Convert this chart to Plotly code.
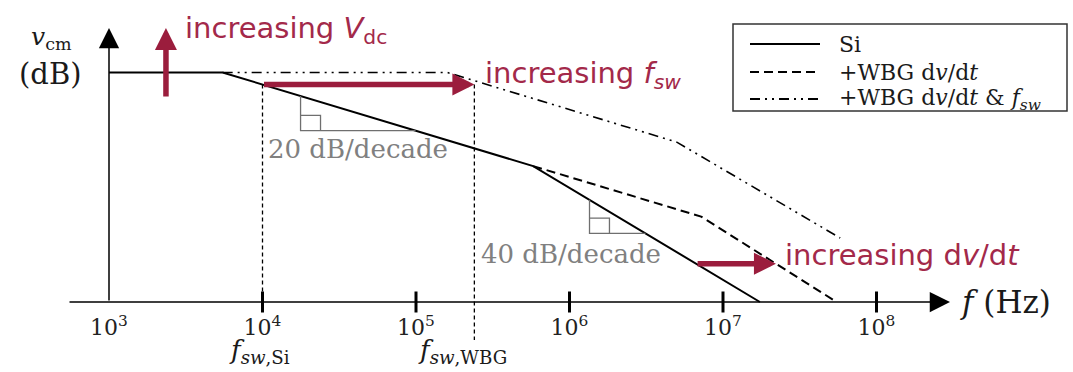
import math
import numpy as np
import plotly.graph_objects as go

W, H = 1073, 372

# ---------------- data ----------------
tick_exponents = [3, 4, 5, 6, 7, 8]
tick_freqs = [10.0 ** e for e in tick_exponents]
tick_labels = [f"10<sup>{e}</sup>" for e in tick_exponents]

# Si spectrum envelope (Hz, dB)
si_freq = [1.0e3, 5.5e3, 5.8e5, 1.74e7]
si_db = [90.0, 90.0, 53.3, 0.0]
# +WBG dv/dt
wbg_dvdt_freq = [5.8e5, 7.2e6, 5.5e7]
wbg_dvdt_db = [53.3, 33.5, 0.0]
# +WBG dv/dt & fsw
wbg_both_freq = [5.5e3, 1.6e5, 5.0e6, 5.8e7]
wbg_both_db = [90.0, 90.0, 62.7, 25.1]

fsw_si = 1.0e4
fsw_wbg = 2.4e5

legend_names = ["Si", "+WBG d<i>v</i>/d<i>t</i>", "+WBG d<i>v</i>/d<i>t</i> &amp; <i>f<sub>sw</sub></i>"]

# slope-triangle anchors (frequency of vertical leg, dB of horizontal leg)
tri_freq = [1.77e4, 1.35e6]
tri_db = [67.2, 26.9]
tri_text = ["20 dB/decade", "40 dB/decade"]

# ---------------- layout constants ----------------
X0_PX, DEC_PX = 109.0, 153.5     # pixel of 10^3 and pixels per decade
Y0_PX, DB_PX = 302.0, 2.55       # pixel of 0 dB and pixels per dB
RED_ARROW = "#9B1D3D"
RED_TEXT = "#A3294A"
GRAY = "#808080"
SERIF = "DejaVu Serif"
SANS = "DejaVu Sans"


def xd(px):  # pixel -> log10 axis units
    return 3 + (px - X0_PX) / DEC_PX


def yd(py):  # pixel -> dB
    return (Y0_PX - py) / DB_PX


def pxp(px):
    return px / W


def pyp(py):
    return 1 - py / H


def si_at(f):
    return float(np.interp(math.log10(f), np.log10(si_freq), si_db))


def freq_at(db, freqs, dbs):
    # inverse on the descending part of a curve
    fl = np.log10(freqs)[::-1]
    dl = np.array(dbs)[::-1]
    keep = np.concatenate([[True], np.diff(dl) > 0])
    return 10 ** float(np.interp(db, dl[keep], fl[keep]))


fig = go.Figure()

dash_style = "9px,5px"
dashdot_style = "10px,5px,2px,5px,2px,5px"

fig.add_trace(go.Scatter(x=si_freq, y=si_db, mode="lines", name=legend_names[0],
                         line=dict(color="black", width=2)))
fig.add_trace(go.Scatter(x=wbg_dvdt_freq, y=wbg_dvdt_db, mode="lines", name=legend_names[1],
                         line=dict(color="black", width=2, dash=dash_style)))
fig.add_trace(go.Scatter(x=wbg_both_freq, y=wbg_both_db, mode="lines", name=legend_names[2],
                         line=dict(color="black", width=1.6, dash=dashdot_style)))

# switching-frequency guide lines
fsw_level = si_at(fsw_si)
fig.add_trace(go.Scatter(x=[fsw_si, fsw_si], y=[fsw_level, 0], mode="lines",
                         line=dict(color="black", width=1.3, dash="4px,3px")))
fig.add_trace(go.Scatter(x=[fsw_wbg, fsw_wbg], y=[fsw_level, yd(340)], mode="lines",
                         line=dict(color="black", width=1.3, dash="4px,3px")))

# slope triangles
SQ_DEC, SQ_DB = 0.13, 6.0
for f_v, d_h in zip(tri_freq, tri_db):
    f_h = freq_at(d_h, si_freq, si_db)
    fig.add_trace(go.Scatter(x=[f_v, f_v, f_h], y=[si_at(f_v), d_h, d_h], mode="lines",
                             line=dict(color="#6f6f6f", width=1.3)))
    f_sq = f_v * 10 ** SQ_DEC
    fig.add_trace(go.Scatter(x=[f_v, f_sq, f_sq], y=[d_h + SQ_DB, d_h + SQ_DB, d_h], mode="lines",
                             line=dict(color="#6f6f6f", width=1.3)))

# axis tick marks crossing the axis
fig.add_trace(go.Scatter(x=tick_freqs[1:], y=[0] * (len(tick_freqs) - 1), mode="markers",
                         cliponaxis=False,
                         marker=dict(symbol="line-ns", size=15, line=dict(width=3, color="black"))))

ann = []


def arrow(x, y, ax, ay, color, width, size):
    ann.append(dict(x=x, y=y, ax=ax, ay=ay, xref="x", yref="y", axref="x", ayref="y",
                    text="", showarrow=True, arrowhead=2, arrowwidth=width, arrowsize=size,
                    arrowcolor=color, standoff=0, startstandoff=0, font=dict(size=1)))


# axes with arrowheads
arrow(xd(950), 0, xd(68), 0, "black", 1.5, 2.7)
arrow(math.log10(tick_freqs[0]), yd(28), math.log10(tick_freqs[0]), 0, "black", 1.5, 2.7)

# red arrows
vdc_f = 2.35e3
arrow(math.log10(vdc_f), yd(28), math.log10(vdc_f), yd(98), RED_ARROW, 5.5, 0.8)
arrow(math.log10(fsw_wbg), fsw_level, math.log10(fsw_si), fsw_level, RED_ARROW, 5.5, 0.8)
dvdt_db = 15.0
arrow(math.log10(freq_at(dvdt_db, wbg_dvdt_freq, wbg_dvdt_db)), dvdt_db,
      math.log10(freq_at(dvdt_db, si_freq, si_db)), dvdt_db, RED_ARROW, 5.5, 0.8)


def label(text, x, y, size, family=SERIF, color="#1a1a1a", xanchor="center"):
    ann.append(dict(x=pxp(x), y=pyp(y), xref="paper", yref="paper", text=text, showarrow=False,
                    xanchor=xanchor, yanchor="middle", font=dict(family=family, size=size, color=color)))


label("<i>v</i><sub>cm</sub>", 51, 38, 25)
label("(dB)", 50, 74, 29)
label("increasing <i>V</i><sub>dc</sub>", 183, 30, 29, SANS, RED_TEXT, "left")
label("increasing <i>f<sub>sw</sub></i>", 483, 75, 29, SANS, RED_TEXT, "left")
label("increasing d<i>v</i>/d<i>t</i>", 783, 255, 29, SANS, RED_TEXT, "left")
label(tri_text[0], 358, 149, 26, SERIF, GRAY)
label(tri_text[1], 571, 254, 26, SERIF, GRAY)
label("<i>f</i><sub><i>sw</i>,Si</sub>", 259, 351, 26)
label("<i>f</i><sub><i>sw</i>,WBG</sub>", 462, 351, 26)
label("<i>f</i> (Hz)", 958, 302, 31, xanchor="left")

# manual legend
shapes = [dict(type="rect", xref="paper", yref="paper", x0=pxp(733), x1=pxp(1067),
               y0=pyp(111), y1=pyp(24), line=dict(color="#333", width=1.5), fillcolor="white",
               layer="above")]
rows = [44, 72, 99]
styles = [dict(color="black", width=2), dict(color="black", width=2, dash=dash_style),
          dict(color="black", width=2, dash=dashdot_style)]
for r, st, nm in zip(rows, styles, legend_names):
    shapes.append(dict(type="line", xref="paper", yref="paper", x0=pxp(750), x1=pxp(820),
                       y0=pyp(r), y1=pyp(r), line=st, layer="above"))
    label(nm, 837, r, 22, xanchor="left")

fig.update_layout(
    width=W, height=H, margin=dict(l=0, r=0, t=0, b=0),
    paper_bgcolor="white", plot_bgcolor="white", showlegend=False,
    xaxis=dict(type="log", range=[xd(0), xd(W)], showgrid=False, zeroline=False, showline=False,
               tickvals=tick_freqs, ticktext=tick_labels, ticks="",
               tickfont=dict(family=SERIF, size=22, color="#222"),
               anchor="free", position=(H - Y0_PX) / H, ticklabelstandoff=10),
    yaxis=dict(visible=False, range=[yd(H), yd(0)]),
    annotations=ann, shapes=shapes,
)

fig.write_html("out.html", config={"displayModeBar": False},
               post_script="document.body.style.margin='0';")
